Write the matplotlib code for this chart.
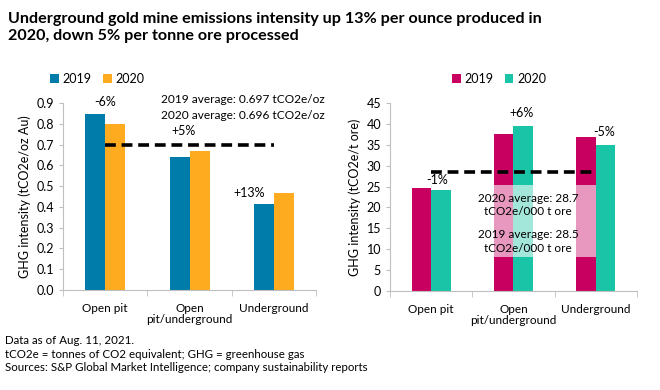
import matplotlib
matplotlib.use("Agg")
import matplotlib.pyplot as plt
import numpy as np
from matplotlib.patches import Rectangle

plt.rcParams['font.family'] = ['Lato', 'DejaVu Sans']

categories = ["Open pit", "Open\npit/underground", "Underground"]
years = ["2019", "2020"]
oz_2019 = [0.847, 0.642, 0.412]
oz_2020 = [0.797, 0.670, 0.465]
ore_2019 = [24.6, 37.5, 36.9]
ore_2020 = [24.3, 39.6, 35.0]
oz_labels = ["-6%", "+5%", "+13%"]
ore_labels = ["-1%", "+6%", "-5%"]
oz_avg = 0.697
ore_avg = 28.6

c_blue, c_orange = "#007CAB", "#FFAB1F"
c_mag, c_teal = "#C8005F", "#1AC4A6"
gray = "#BFBFBF"
fs = 9

fig = plt.figure(figsize=(6.6, 3.9), dpi=100)

fig.text(0.012, 0.968, "Underground gold mine emissions intensity up 13% per ounce produced in\n2020, down 5% per tonne ore processed",
         fontsize=11.6, fontweight='bold', va='top', ha='left', linespacing=1.25)

footer = "Data as of Aug. 11, 2021.\ntCO2e = tonnes of CO2 equivalent; GHG = greenhouse gas\nSources: S&P Global Market Intelligence; company sustainability reports"
fig.text(0.008, 0.14, footer, fontsize=8.3, va='top', ha='left', linespacing=1.25)

def style(ax, ylim, yticks, fmt, ylabel):
    ax.set_xlim(-0.5, 2.5)
    ax.set_ylim(*ylim)
    ax.set_yticks(yticks)
    ax.set_yticklabels([fmt(v) for v in yticks], fontsize=fs)
    for s in ['top', 'right']:
        ax.spines[s].set_visible(False)
    for s in ['left', 'bottom']:
        ax.spines[s].set_color(gray)
    ax.tick_params(axis='y', colors=gray, length=3, labelcolor='black')
    ax.set_xticks([0, 1, 2])
    ax.set_xticklabels(categories, fontsize=fs - 0.5, linespacing=1.1)
    ax.tick_params(axis='x', length=0, pad=9)
    ax.set_xticks([-0.5, 0.5, 1.5, 2.5], minor=True)
    ax.tick_params(axis='x', which='minor', length=4, color=gray)
    ax.set_ylabel(ylabel, fontsize=fs, labelpad=4)

x = np.arange(3)
w = 0.238

# Left panel
ax1 = fig.add_axes([0.0955, 0.2564, 0.3835, 0.4795])
ax1.bar(x - w/2, oz_2019, w, color=c_blue, label=years[0])
ax1.bar(x + w/2, oz_2020, w, color=c_orange, label=years[1])
style(ax1, (0, 0.9), np.round(np.arange(0, 0.91, 0.1), 1), lambda v: f"{v:.1f}", "GHG intensity (tCO2e/oz Au)")
ax1.plot([0, 2], [oz_avg, oz_avg], ls=(0, (3.0, 1.6)), color='black', lw=2.6)
ax1.text(0, 0.906, oz_labels[0], ha='center', va='center', fontsize=fs)
ax1.text(0.93, 0.765, oz_labels[1], ha='center', va='center', fontsize=fs)
ax1.text(1.71, 0.467, oz_labels[2], ha='center', va='center', fontsize=fs)
ax1.text(1.63, 0.918, "2019 average: 0.697 tCO2e/oz", ha='center', va='center', fontsize=8.6)
ax1.text(1.63, 0.842, "2020 average: 0.696 tCO2e/oz", ha='center', va='center', fontsize=8.6)
ax1.legend(loc='lower left', bbox_to_anchor=(-0.07, 1.07), ncol=2, frameon=False, fontsize=fs,
           handlelength=0.7, handleheight=0.7, handletextpad=0.3, columnspacing=0.9, borderaxespad=0)

# Right panel
ax2 = fig.add_axes([0.591, 0.2538, 0.374, 0.482])
ax2.bar(x - w/2, ore_2019, w, color=c_mag, label=years[0])
ax2.bar(x + w/2, ore_2020, w, color=c_teal, label=years[1])
style(ax2, (0, 45), np.arange(0, 46, 5), lambda v: f"{v:d}", "GHG intensity (tCO2e/t ore)")
ax2.plot([0, 2], [ore_avg, ore_avg], ls=(0, (3.0, 1.6)), color='black', lw=2.6)
ax2.text(0.07, 26.6, ore_labels[0], ha='center', va='center', fontsize=fs)
ax2.text(1.1, 42.7, ore_labels[1], ha='center', va='center', fontsize=fs)
ax2.text(2.1, 38.1, ore_labels[2], ha='center', va='center', fontsize=fs)
ax2.add_patch(Rectangle((0.57, 15.9), 1.43, 9.5, facecolor='white', alpha=0.6, edgecolor='none', zorder=3))
ax2.add_patch(Rectangle((0.57, 8.1), 1.43, 7.6, facecolor='white', alpha=0.6, edgecolor='none', zorder=3))
ax2.text(1.18, 20.6, "2020 average: 28.7\ntCO2e/000 t ore", ha='center', va='center', fontsize=8.5, zorder=4, linespacing=1.3)
ax2.text(1.18, 11.8, "2019 average: 28.5\ntCO2e/000 t ore", ha='center', va='center', fontsize=8.5, zorder=4, linespacing=1.3)
ax2.legend(loc='lower left', bbox_to_anchor=(0.23, 1.07), ncol=2, frameon=False, fontsize=fs,
           handlelength=0.7, handleheight=0.7, handletextpad=0.3, columnspacing=0.9, borderaxespad=0)

fig.savefig("out.png", dpi=100)
